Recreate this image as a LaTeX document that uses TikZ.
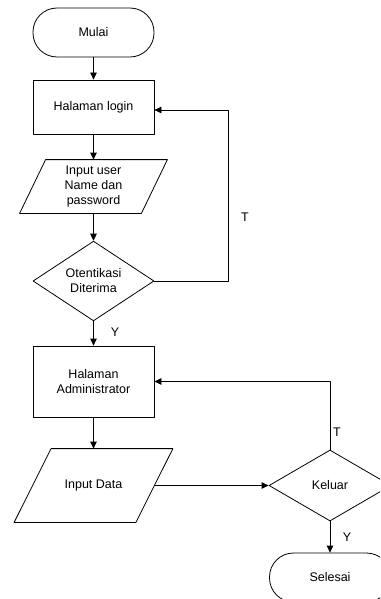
\documentclass[tikz,border=0pt]{standalone}
\usepackage{fontspec}
\setmainfont{Liberation Sans}
\usetikzlibrary{shapes.geometric,arrows.meta}
\tikzset{
  terminal/.style={draw, rectangle, rounded corners=24pt, minimum width=121pt, minimum height=49pt, align=center},
  process/.style={draw, rectangle, minimum width=121pt, align=center},
  io/.style={rectangle, minimum width=121pt, align=center, inner sep=0pt,
    append after command={\pgfextra{\draw ([xshift=#1]\tikzlastnode.north west) -- ([xshift=#1]\tikzlastnode.north east)
      -- ([xshift=-#1]\tikzlastnode.south east) -- ([xshift=-#1]\tikzlastnode.south west) -- cycle;}}},
  decision/.style={draw, diamond, minimum width=121pt, align=center, inner sep=0pt},
}
\begin{document}
\begin{tikzpicture}[x=1pt, y=1pt, font=\fontsize{12.5}{15}\selectfont, line width=0.8pt, line join=round, >={Triangle[length=7pt,width=6.5pt]}]
    \useasboundingbox (0,0) rectangle (380,-599);
    \clip (0,0) rectangle (380,-599);
    % nodes
    \node[terminal] (mulai) at (93.5,-32.5) {Mulai};
    \node[process, minimum height=54pt] (login) at (93.5,-107) {Halaman login};
    \node[io=13pt, minimum height=53pt] (inuser) at (93.5,-186.5) {Input user\\Name dan\\password};
    \node[decision, minimum height=72pt] (auth) at (93.5,-281) {Otentikasi\\Diterima};
    \node[process, minimum height=71pt] (admin) at (93.5,-381.5) {Halaman\\Administrator};
    \node[io=18.5pt, minimum height=73pt] (indata) at (93.5,-485.5) {Input Data};
    \node[decision, minimum width=122pt, minimum height=71pt] (keluar) at (330,-485.5) {Keluar};
    \node[terminal] (selesai) at (330,-577.5) {Selesai};
    \coordinate (loopT) at (228,-281);
    % connectors
    \draw[->] (mulai) -- (login);
    \draw[->] (login) -- (inuser);
    \draw[->] (inuser) -- (auth);
    \draw[->] (auth) -- (admin);
    \draw[->] (auth.east) -- (loopT) |- ([yshift=-3pt]login.east);
    \draw[->] (admin) -- (indata);
    \draw[->] (indata.east) -- (keluar.west);
    \draw[->] (keluar.north) |- (admin.east);
    \draw[->] (keluar) -- (selesai);
    % labels
    \node at (245,-217) {T};
    \node at (115,-332) {Y};
    \node at (337,-432) {T};
    \node at (347,-537) {Y};
\end{tikzpicture}
\end{document}
